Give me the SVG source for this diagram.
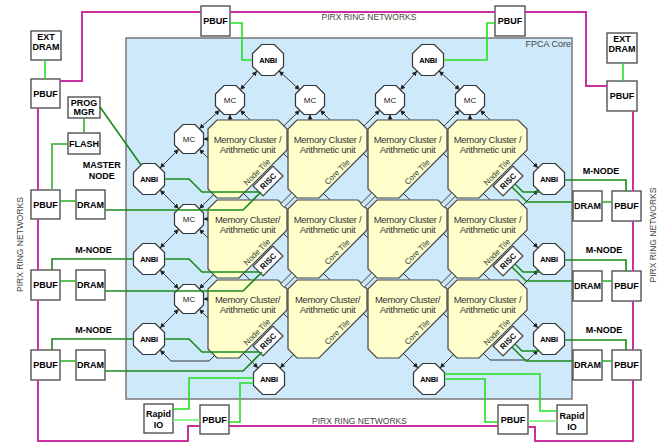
<svg xmlns="http://www.w3.org/2000/svg" xmlns:xlink="http://www.w3.org/1999/xlink" width="667" height="443" viewBox="0 0 667 443">
<defs>
<style>
text{font-family:"Liberation Sans",Arial,Helvetica,sans-serif}
.core{fill:#cde9fa;stroke:#777;stroke-width:1.5}
.oct{fill:#fff;stroke:#333;stroke-width:1.2}
.tile{fill:#ffffcc;stroke:#444;stroke-width:1.2}
.box{fill:#fff;stroke:#444;stroke-width:1.3}
.lnk{fill:#cde9fa;stroke:#333;stroke-width:0.9}
.tA{font-size:7.5px;font-weight:bold;text-anchor:middle;letter-spacing:-0.2px}
.tM{font-size:8px;text-anchor:middle;fill:#222}
.tB{font-size:9px;font-weight:bold;text-anchor:middle}
.tT{font-size:9.5px;text-anchor:middle;fill:#333;letter-spacing:-0.3px}
.tD{font-size:8px;text-anchor:middle;fill:#333}
.tR{font-size:8px;font-weight:bold;text-anchor:middle}
.ring{font-size:8.5px;fill:#444;text-anchor:middle}
.lat{stroke:#222;stroke-width:0.9;fill:none}
.ar{marker-start:url(#ah);marker-end:url(#ah)}
.ae{marker-end:url(#ah)}
.as{marker-start:url(#ah)}
.pink{stroke:#cc2f9f;stroke-width:2;fill:none}
.gB{stroke:#22e022;stroke-width:1.6;fill:none}
.gD{stroke:#1a8a1a;stroke-width:1.6;fill:none}
.gM{stroke:#33b033;stroke-width:1.6;fill:none}
.gL{stroke:#77ee77;stroke-width:1.6;fill:none}
</style>
<marker id="ah" viewBox="0 0 8 8" refX="8" refY="4" markerWidth="5" markerHeight="5" markerUnits="userSpaceOnUse" orient="auto-start-reverse">
<path d="M0,0 L8,4 L0,8 z" fill="#222"/>
</marker>
<polygon id="octA" points="-6.4,-15.5 6.4,-15.5 15.5,-6.4 15.5,6.4 6.4,15.5 -6.4,15.5 -15.5,6.4 -15.5,-6.4"/>
<polygon id="octM" points="-6,-14.5 6,-14.5 14.5,-6 14.5,6 6,14.5 -6,14.5 -14.5,6 -14.5,-6"/>
<polygon id="tileShape" points="9,0 70,0 79,9 79,30 31,78 9,78 0,69 0,9"/>
</defs>

<g id="fpca-core">
<rect class="core" x="126" y="38" width="446" height="361"/>
<text x="571" y="47" style="font-size:9px;fill:#444;text-anchor:end">FPCA Core</text>
</g>

<g id="connectors">
<!-- lattice links (drawn behind tiles) -->
<line class="lat ar" x1="257" y1="71" x2="240.3" y2="89.8"/>
<line class="lat ar" x1="279" y1="71" x2="299.7" y2="89.8"/>
<line class="lat ar" x1="417" y1="71" x2="400.3" y2="89.8"/>
<line class="lat ar" x1="439" y1="71" x2="459.7" y2="89.8"/>
<line class="lat ar" x1="219.7" y1="110.3" x2="199.3" y2="128.7"/>
<line class="lat ar" x1="178.7" y1="149.3" x2="160" y2="168"/>
<line class="lat ar" x1="160" y1="190" x2="178.7" y2="208.7"/>
<line class="lat ar" x1="178.7" y1="229.3" x2="160" y2="248"/>
<line class="lat ar" x1="160" y1="270" x2="178.7" y2="288.7"/>
<line class="lat ar" x1="178.7" y1="309.3" x2="160" y2="328"/>
<line class="lat ar" x1="480.3" y1="110.3" x2="538" y2="168"/>
<line class="lat ar" x1="400.3" y1="110.3" x2="538" y2="248"/>
<line class="lat ar" x1="320.3" y1="110.3" x2="538" y2="328"/>
<polyline class="lat ar" points="240.3,110.3 490,360 528,360 538,350"/>
<line class="lat ar" x1="199.3" y1="149.3" x2="418" y2="368"/>
<line class="lat as" x1="199.3" y1="229.3" x2="320" y2="350"/>
<line class="lat ar" x1="199.3" y1="309.3" x2="258" y2="368"/>
<line class="lat ar" x1="299.7" y1="110.3" x2="199.3" y2="208.7"/>
<line class="lat ar" x1="379.7" y1="110.3" x2="199.3" y2="288.7"/>
<polyline class="lat ar" points="459.7,110.3 209,361 171,361 160,350"/>
<line class="lat ae" x1="515" y1="135" x2="280" y2="368"/>
<line class="lat as" x1="538" y1="190" x2="375" y2="353"/>
<line class="lat ar" x1="538" y1="270" x2="440" y2="368"/>
<line class="lat as" x1="230" y1="114.5" x2="230" y2="120"/>
<line class="lat as" x1="310" y1="114.5" x2="310" y2="120"/>
<line class="lat as" x1="390" y1="114.5" x2="390" y2="120"/>
<line class="lat as" x1="470" y1="114.5" x2="470" y2="120"/>
<line class="lat as" x1="203.5" y1="139" x2="208" y2="139"/>
<line class="lat as" x1="203.5" y1="219" x2="208" y2="219"/>
<line class="lat as" x1="203.5" y1="299" x2="208" y2="299"/>
</g>

<g id="tile-r0c0" transform="translate(208,120)">
<use href="#tileShape" class="tile"/>
<text class="tT" x="39.5" y="22.5">Memory Cluster /</text>
<text class="tT" x="39.5" y="33">Arithmetic unit</text>
<text class="tD" transform="translate(51,54) rotate(-45)">Node Tile</text>
<g transform="translate(60,61) rotate(-45)"><rect class="box" x="-14" y="-7" width="28" height="14"/><text class="tR" y="3">RISC</text></g>
</g>
<g id="tile-r0c1" transform="translate(288,120)">
<use href="#tileShape" class="tile"/>
<text class="tT" x="39.5" y="22.5">Memory Cluster /</text>
<text class="tT" x="39.5" y="33">Arithmetic unit</text>
<text class="tD" transform="translate(51,54) rotate(-45)">Core Tile</text>
</g>
<g id="tile-r0c2" transform="translate(368,120)">
<use href="#tileShape" class="tile"/>
<text class="tT" x="39.5" y="22.5">Memory Cluster /</text>
<text class="tT" x="39.5" y="33">Arithmetic unit</text>
<text class="tD" transform="translate(51,54) rotate(-45)">Core Tile</text>
</g>
<g id="tile-r0c3" transform="translate(448,120)">
<use href="#tileShape" class="tile"/>
<text class="tT" x="39.5" y="22.5">Memory Cluster /</text>
<text class="tT" x="39.5" y="33">Arithmetic unit</text>
<text class="tD" transform="translate(51,54) rotate(-45)">Node Tile</text>
<g transform="translate(60,61) rotate(-45)"><rect class="box" x="-14" y="-7" width="28" height="14"/><text class="tR" y="3">RISC</text></g>
</g>
<g id="tile-r1c0" transform="translate(208,200)">
<use href="#tileShape" class="tile"/>
<text class="tT" x="39.5" y="22.5">Memory Cluster/</text>
<text class="tT" x="39.5" y="33">Arithmetic unit</text>
<text class="tD" transform="translate(51,54) rotate(-45)">Node Tile</text>
<g transform="translate(60,61) rotate(-45)"><rect class="box" x="-14" y="-7" width="28" height="14"/><text class="tR" y="3">RISC</text></g>
</g>
<g id="tile-r1c1" transform="translate(288,200)">
<use href="#tileShape" class="tile"/>
<text class="tT" x="39.5" y="22.5">Memory Cluster /</text>
<text class="tT" x="39.5" y="33">Arithmetic unit</text>
<text class="tD" transform="translate(51,54) rotate(-45)">Core Tile</text>
</g>
<g id="tile-r1c2" transform="translate(368,200)">
<use href="#tileShape" class="tile"/>
<text class="tT" x="39.5" y="22.5">Memory Cluster /</text>
<text class="tT" x="39.5" y="33">Arithmetic unit</text>
<text class="tD" transform="translate(51,54) rotate(-45)">Core Tile</text>
</g>
<g id="tile-r1c3" transform="translate(448,200)">
<use href="#tileShape" class="tile"/>
<text class="tT" x="39.5" y="22.5">Memory Cluster /</text>
<text class="tT" x="39.5" y="33">Arithmetic unit</text>
<text class="tD" transform="translate(51,54) rotate(-45)">Node Tile</text>
<g transform="translate(60,61) rotate(-45)"><rect class="box" x="-14" y="-7" width="28" height="14"/><text class="tR" y="3">RISC</text></g>
</g>
<g id="tile-r2c0" transform="translate(208,280)">
<use href="#tileShape" class="tile"/>
<text class="tT" x="39.5" y="22.5">Memory Cluster/</text>
<text class="tT" x="39.5" y="33">Arithmetic unit</text>
<text class="tD" transform="translate(51,54) rotate(-45)">Node Tile</text>
<g transform="translate(60,61) rotate(-45)"><rect class="box" x="-14" y="-7" width="28" height="14"/><text class="tR" y="3">RISC</text></g>
</g>
<g id="tile-r2c1" transform="translate(288,280)">
<use href="#tileShape" class="tile"/>
<text class="tT" x="39.5" y="22.5">Memory Cluster/</text>
<text class="tT" x="39.5" y="33">Arithmetic unit</text>
<text class="tD" transform="translate(51,54) rotate(-45)">Core Tile</text>
</g>
<g id="tile-r2c2" transform="translate(368,280)">
<use href="#tileShape" class="tile"/>
<text class="tT" x="39.5" y="22.5">Memory Cluster/</text>
<text class="tT" x="39.5" y="33">Arithmetic unit</text>
<text class="tD" transform="translate(51,54) rotate(-45)">Core Tile</text>
</g>
<g id="tile-r2c3" transform="translate(448,280)">
<use href="#tileShape" class="tile"/>
<text class="tT" x="39.5" y="22.5">Memory Cluster /</text>
<text class="tT" x="39.5" y="33">Arithmetic unit</text>
<text class="tD" transform="translate(51,54) rotate(-45)">Node Tile</text>
<g transform="translate(60,61) rotate(-45)"><rect class="box" x="-14" y="-7" width="28" height="14"/><text class="tR" y="3">RISC</text></g>
</g>

<g id="tile-links">
<rect class="lnk" x="-8" y="-2.5" width="16" height="5" transform="translate(288,200) rotate(-45)"/>
<rect class="lnk" x="-8" y="-2.5" width="16" height="5" transform="translate(368,200) rotate(-45)"/>
<rect class="lnk" x="-8" y="-2.5" width="16" height="5" transform="translate(448,200) rotate(-45)"/>
<rect class="lnk" x="-8" y="-2.5" width="16" height="5" transform="translate(288,280) rotate(-45)"/>
<rect class="lnk" x="-8" y="-2.5" width="16" height="5" transform="translate(368,280) rotate(-45)"/>
<rect class="lnk" x="-8" y="-2.5" width="16" height="5" transform="translate(448,280) rotate(-45)"/>
</g>

<g id="anbi-t1" transform="translate(268,60)"><use href="#octA" class="oct"/><text class="tA" y="3">ANBI</text></g>
<g id="anbi-t2" transform="translate(428,60)"><use href="#octA" class="oct"/><text class="tA" y="3">ANBI</text></g>
<g id="anbi-l1" transform="translate(149,179)"><use href="#octA" class="oct"/><text class="tA" y="3">ANBI</text></g>
<g id="anbi-l2" transform="translate(149,259)"><use href="#octA" class="oct"/><text class="tA" y="3">ANBI</text></g>
<g id="anbi-l3" transform="translate(149,339)"><use href="#octA" class="oct"/><text class="tA" y="3">ANBI</text></g>
<g id="anbi-r1" transform="translate(549,179)"><use href="#octA" class="oct"/><text class="tA" y="3">ANBI</text></g>
<g id="anbi-r2" transform="translate(549,259)"><use href="#octA" class="oct"/><text class="tA" y="3">ANBI</text></g>
<g id="anbi-r3" transform="translate(549,339)"><use href="#octA" class="oct"/><text class="tA" y="3">ANBI</text></g>
<g id="anbi-b1" transform="translate(269,379)"><use href="#octA" class="oct"/><text class="tA" y="3">ANBI</text></g>
<g id="anbi-b2" transform="translate(429,379)"><use href="#octA" class="oct"/><text class="tA" y="3">ANBI</text></g>

<g id="mc-t1" transform="translate(230,100)"><use href="#octM" class="oct"/><text class="tM" y="3">MC</text></g>
<g id="mc-t2" transform="translate(310,100)"><use href="#octM" class="oct"/><text class="tM" y="3">MC</text></g>
<g id="mc-t3" transform="translate(390,100)"><use href="#octM" class="oct"/><text class="tM" y="3">MC</text></g>
<g id="mc-t4" transform="translate(470,100)"><use href="#octM" class="oct"/><text class="tM" y="3">MC</text></g>
<g id="mc-l1" transform="translate(189,139)"><use href="#octM" class="oct"/><text class="tM" y="3">MC</text></g>
<g id="mc-l2" transform="translate(189,219)"><use href="#octM" class="oct"/><text class="tM" y="3">MC</text></g>
<g id="mc-l3" transform="translate(189,299)"><use href="#octM" class="oct"/><text class="tM" y="3">MC</text></g>

<g id="ext-dram-l"><rect class="box" x="31" y="31" width="30" height="29"/><text class="tB" x="46" y="40">EXT</text><text class="tB" x="46" y="50">DRAM</text></g>
<g id="pbuf-lt"><rect class="box" x="31" y="79" width="29" height="29"/><text class="tB" x="45.5" y="96.8">PBUF</text></g>
<g id="pbuf-t1"><rect class="box" x="201" y="6" width="29" height="30"/><text class="tB" x="215.5" y="24.3">PBUF</text></g>
<g id="pbuf-t2"><rect class="box" x="495" y="6" width="30" height="30"/><text class="tB" x="510" y="24.3">PBUF</text></g>
<g id="ext-dram-r"><rect class="box" x="607" y="33" width="30" height="30"/><text class="tB" x="622" y="42">EXT</text><text class="tB" x="622" y="52">DRAM</text></g>
<g id="pbuf-rt"><rect class="box" x="607" y="81" width="30" height="30"/><text class="tB" x="622" y="99.3">PBUF</text></g>
<g id="prog-mgr"><rect class="box" x="68" y="97" width="32" height="21"/><text class="tB" x="84" y="105.5">PROG</text><text class="tB" x="84" y="115">MGR</text></g>
<g id="flash"><rect class="box" x="68" y="133" width="32" height="21"/><text class="tB" x="84" y="146.8">FLASH</text></g>
<g id="pbuf-l1"><rect class="box" x="31" y="190" width="29" height="29"/><text class="tB" x="45.5" y="207.8">PBUF</text></g>
<g id="pbuf-l2"><rect class="box" x="31" y="270" width="29" height="30"/><text class="tB" x="45.5" y="288.3">PBUF</text></g>
<g id="pbuf-l3"><rect class="box" x="31" y="350" width="29" height="30"/><text class="tB" x="45.5" y="368.3">PBUF</text></g>
<g id="dram-l1"><rect class="box" x="76" y="190" width="29" height="29"/><text class="tB" x="90.5" y="207.8">DRAM</text></g>
<g id="dram-l2"><rect class="box" x="76" y="270" width="29" height="30"/><text class="tB" x="90.5" y="288.3">DRAM</text></g>
<g id="dram-l3"><rect class="box" x="76" y="350" width="29" height="30"/><text class="tB" x="90.5" y="368.3">DRAM</text></g>
<g id="dram-r1"><rect class="box" x="573" y="191" width="29" height="30"/><text class="tB" x="587.5" y="209.3">DRAM</text></g>
<g id="dram-r2"><rect class="box" x="573" y="271" width="29" height="30"/><text class="tB" x="587.5" y="289.3">DRAM</text></g>
<g id="dram-r3"><rect class="box" x="573" y="350" width="29" height="30"/><text class="tB" x="587.5" y="368.3">DRAM</text></g>
<g id="pbuf-r1"><rect class="box" x="612" y="191" width="29" height="30"/><text class="tB" x="626.5" y="209.3">PBUF</text></g>
<g id="pbuf-r2"><rect class="box" x="612" y="271" width="29" height="30"/><text class="tB" x="626.5" y="289.3">PBUF</text></g>
<g id="pbuf-r3"><rect class="box" x="612" y="350" width="29" height="30"/><text class="tB" x="626.5" y="368.3">PBUF</text></g>
<g id="rapidio-l"><rect class="box" x="144" y="404" width="29" height="29"/><text class="tB" x="158.5" y="417">Rapid</text><text class="tB" x="158.5" y="428.3">IO</text></g>
<g id="pbuf-bl"><rect class="box" x="200" y="405" width="29" height="29"/><text class="tB" x="214.5" y="422.8">PBUF</text></g>
<g id="pbuf-br"><rect class="box" x="498" y="405" width="30" height="29"/><text class="tB" x="513" y="422.8">PBUF</text></g>
<g id="rapidio-r"><rect class="box" x="557" y="405" width="30" height="29"/><text class="tB" x="572" y="418.7">Rapid</text><text class="tB" x="572" y="430">IO</text></g>

<g id="labels">
<text class="tB" x="101.7" y="167.7">MASTER</text>
<text class="tB" x="101.7" y="179">NODE</text>
<text class="tB" x="93.5" y="252.7">M-NODE</text>
<text class="tB" x="93.5" y="332.7">M-NODE</text>
<text class="tB" x="601" y="174">M-NODE</text>
<text class="tB" x="604" y="252.7">M-NODE</text>
<text class="tB" x="604" y="332.7">M-NODE</text>
<text class="ring" x="369" y="19.5">PIRX RING NETWORKS</text>
<text class="ring" x="359.5" y="423.5">PIRX RING NETWORKS</text>
<text class="ring" transform="translate(23,244.5) rotate(-90)">PIRX RING NETWORKS</text>
<text class="ring" transform="translate(656,235) rotate(-90)">PIRX RING NETWORKS</text>
</g>

<g id="wires">
<!-- pink ring -->
<polyline class="pink" points="60,81 82,81 82,12 201,12"/>
<line class="pink" x1="230" y1="12" x2="495" y2="12"/>
<polyline class="pink" points="525,12 586,12 586,86 607,86"/>
<line class="pink" x1="38" y1="108" x2="38" y2="190"/>
<line class="pink" x1="38" y1="219" x2="38" y2="270"/>
<line class="pink" x1="38" y1="300" x2="38" y2="350"/>
<polyline class="pink" points="38,380 38,441 188,441 188,426 200,426"/>
<line class="pink" x1="229" y1="426" x2="498" y2="426"/>
<polyline class="pink" points="528,427 535,427 535,441 633,441 633,380"/>
<line class="pink" x1="633" y1="111" x2="633" y2="191"/>
<line class="pink" x1="633" y1="221" x2="633" y2="271"/>
<line class="pink" x1="633" y1="301" x2="633" y2="350"/>
<!-- green: top -->
<line class="gB" x1="45" y1="60" x2="45" y2="79"/>
<line class="gB" x1="623" y1="63" x2="623" y2="81"/>
<polyline class="gB" points="230,23 242,23 242,60 252.5,60"/>
<polyline class="gB" points="495,23 487,23 487,60 443.5,60"/>
<!-- green: master node -->
<line class="gM" x1="84" y1="118" x2="84" y2="133"/>
<polyline class="gM" points="68,144 52,144 52,190"/>
<line class="gD" x1="100" y1="107" x2="141" y2="165"/>
<!-- green: left nodes -->
<polyline class="gD" points="133.5,259 52,259 52,270"/>
<polyline class="gD" points="133.5,339 52,339 52,350"/>
<line class="gM" x1="60" y1="201" x2="76" y2="201"/>
<line class="gM" x1="60" y1="281" x2="76" y2="281"/>
<line class="gM" x1="60" y1="361" x2="76" y2="361"/>
<polyline class="gD" points="164.5,179 189,179 202,192 259,192"/>
<polyline class="gD" points="105,210 243,210 261,192"/>
<polyline class="gD" points="164.5,259 189,259 202,272 259,272"/>
<polyline class="gD" points="105,291 243,291 262,272"/>
<polyline class="gD" points="164.5,339 189,339 202,352 259,352"/>
<polyline class="gD" points="105,371 243,371 262,352"/>
<!-- green: right nodes -->
<polyline class="gD" points="564.5,180 626,180 626,191"/>
<polyline class="gD" points="564.5,260 626,260 626,271"/>
<polyline class="gD" points="564.5,340 626,340 626,350"/>
<line class="gM" x1="602" y1="202" x2="612" y2="202"/>
<line class="gM" x1="602" y1="281" x2="612" y2="281"/>
<line class="gM" x1="602" y1="361" x2="612" y2="361"/>
<polyline class="gD" points="512,187 527,202 573,202"/>
<polyline class="gD" points="515,184 523,192 540,192"/>
<polyline class="gD" points="512,267 526,281 573,281"/>
<polyline class="gD" points="515,264 523,272 540,272"/>
<polyline class="gD" points="512,347 526,361 573,361"/>
<polyline class="gD" points="515,344 522,351 540,351"/>
<!-- green: bottom -->
<polyline class="gB" points="253.5,378 189,378 189,409 173,409"/>
<polyline class="gB" points="229,422 240,422 240,383 253.5,383"/>
<line class="gL" x1="173" y1="420" x2="200" y2="420"/>
<polyline class="gB" points="444.5,374 540,374 540,411 557,411"/>
<polyline class="gB" points="444.5,379 485,379 485,422 498,422"/>
<line class="gL" x1="528" y1="421" x2="557" y2="421"/>
</g>
</svg>
